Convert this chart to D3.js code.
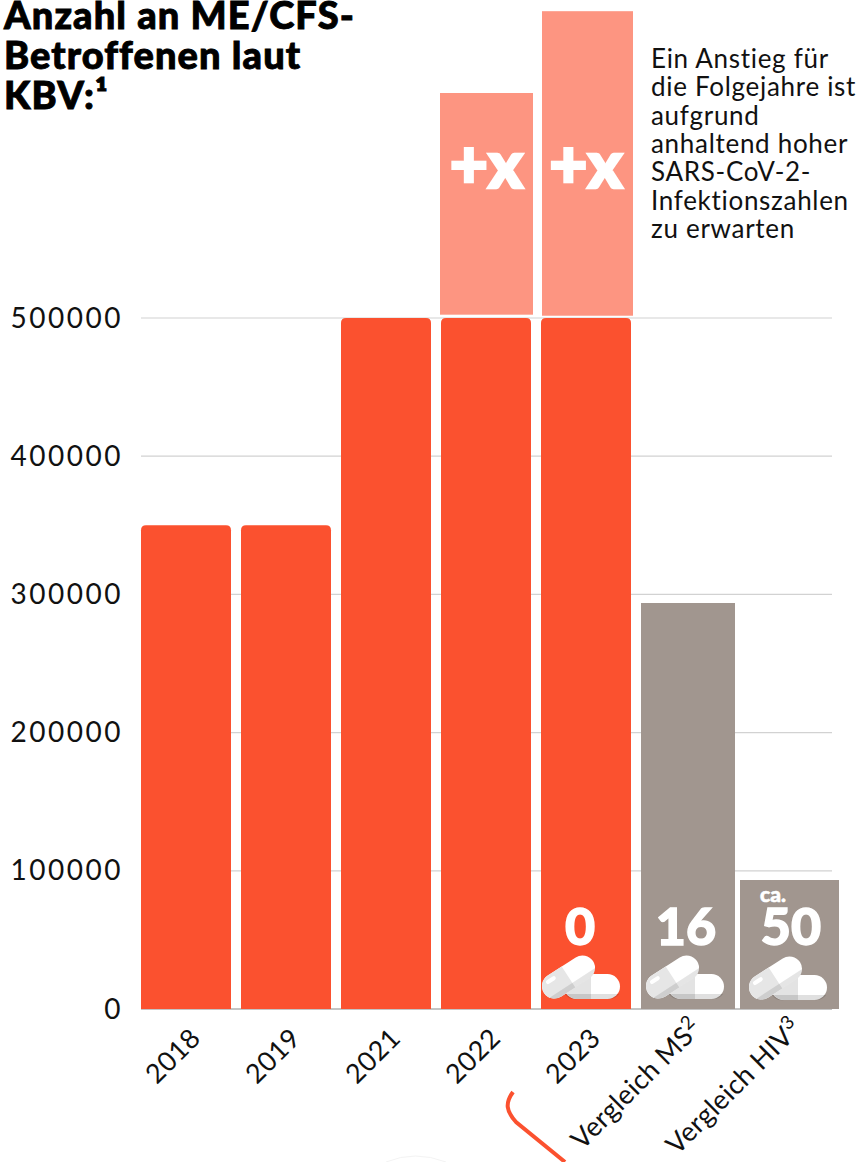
<!DOCTYPE html>
<html><head><meta charset="utf-8">
<script src="https://cdn.jsdelivr.net/npm/d3@7/dist/d3.min.js"></script>
<style>
html,body{margin:0;padding:0;background:#fff;overflow:hidden}
svg{display:block}
text{font-family:"Lato","Noto Sans",sans-serif}
</style></head><body><svg id="c" width="859" height="1162"></svg>
<script>
const categories=["2018","2019","2021","2022","2023","Vergleich MS²","Vergleich HIV³"];
const counts=[350000,350000,500000,500000,500000,293800,93300];
const projectedTops=[null,null,null,662800,722000,null,null];
const projectedBases=[null,null,null,502400,501650,null,null];
const pillCounts=["","","","","0","16","50"];
const yTicks=[0,100000,200000,300000,400000,500000];
const titleLines=["Anzahl an ME/CFS-","Betroffenen laut","KBV:¹"];
const noteLines=["Ein Anstieg für","die Folgejahre ist","aufgrund","anhaltend hoher","SARS-CoV-2-","Infektionszahlen","zu erwarten"];
const ORANGE="#fb512f",LIGHT="#fd9581",GREY="#a1968f",INK="#111";

const svg=d3.select("#c");
const x=d3.scaleBand().domain(categories).range([141,831]).paddingInner(0.1).paddingOuter(0);
const y=d3.scaleLinear().domain([0,500000]).range([1009,318]);

// faint arc at the foot
svg.append("path").attr("d","M386,1162Q415,1150 446,1162").attr("fill","none").attr("stroke","#f3f3f3").attr("stroke-width",1);

// grid and baseline
svg.append("g").selectAll("line").data(yTicks).join("line")
 .attr("x1",141).attr("x2",832).attr("y1",d=>y(d)).attr("y2",d=>y(d))
 .attr("stroke",d=>d===0?"#8a8a8a":"#d2d2d2").attr("stroke-width",1.2);

// y labels
svg.append("g").selectAll("text").data(yTicks).join("text")
 .attr("x",123).attr("y",d=>y(d)+9.5).attr("text-anchor","end")
 .attr("font-size",28).attr("letter-spacing",2.5).attr("fill",INK).text(d=>d);

// main bars
function topRounded(d,i){
  const x0=x(categories[i]),w=x.bandwidth(),t=y(d),b=y(0),r=5;
  return `M${x0},${b}V${t+r}Q${x0},${t} ${x0+r},${t}H${x0+w-r}Q${x0+w},${t} ${x0+w},${t+r}V${b}Z`;
}
const isComparison=i=>i>=5;
const comparisonBox=i=>i===5?{x:x(categories[i]),w:x.bandwidth()+4}:{x:x(categories[i])-1,w:x.bandwidth()+9};
svg.append("g").selectAll("path").data(counts).join("path")
 .attr("d",(d,i)=>{
   if(isComparison(i)){const b=comparisonBox(i);return `M${b.x},${y(0)}V${y(d)}H${b.x+b.w}V${y(0)}Z`;}
   return topRounded(d,i);})
 .attr("fill",(d,i)=>isComparison(i)?GREY:ORANGE);

// projected bars
const proj=svg.append("g");
projectedTops.forEach((v,i)=>{
  if(v===null)return;
  const c=categories[i];
  const px=i===3?x(c)-1:x(c)+1, pw=i===3?x.bandwidth()+3:x.bandwidth()+1;
  proj.append("rect").attr("x",px).attr("width",pw).attr("y",y(v)).attr("height",y(projectedBases[i])-y(v)).attr("fill",LIGHT);
  proj.append("text").attr("x",px+pw/2-(i===4?1.5:0)).attr("y",188).attr("text-anchor","middle")
   .attr("font-size",66).attr("font-weight",900).attr("fill","#fff").attr("stroke","#fff").attr("stroke-width",2.6).text("+x");
});

// pills
function pill(g,tx,ty){
  const p=g.append("g").attr("transform",`translate(${tx},${ty})`);
  p.append("rect").attr("x",22).attr("y",19).attr("width",56).attr("height",25).attr("rx",12.5).attr("fill","#fff");
  p.append("path").attr("d","M49,19H35A12.5,12.5 0 0 0 35,44H49Z").attr("fill","#e3e3e3");
  p.append("path").attr("d","M22.8,39A12.5,12.5 0 0 0 35,44H65.5A12.5,12.5 0 0 0 77.2,39Z").attr("fill","#000").attr("opacity",0.12);
  const t=p.append("g").attr("transform","translate(26.5,22) rotate(-33)");
  t.append("rect").attr("x",-29.2).attr("y",-12.5).attr("width",58.4).attr("height",25).attr("rx",12.5).attr("fill","#fff");
  t.append("path").attr("d","M0,-12.5H-16.7A12.5,12.5 0 0 0 -16.7,12.5H0Z").attr("fill","#e6e6e6");
  t.append("path").attr("d","M-27.2,7A12.5,12.5 0 0 0 -16.7,12.5H16.7A12.5,12.5 0 0 0 27.2,7Z").attr("fill","#000").attr("opacity",0.1);
  t.append("path").attr("d","M-20,-7H-13").attr("stroke","#fff").attr("stroke-width",4).attr("stroke-linecap","round");
}
const lab=svg.append("g");
pillCounts.forEach((s,i)=>{
  if(!s)return;
  const c=categories[i];
  const bx=isComparison(i)?comparisonBox(i).x:x(c);
  const cx=i===4?x(c)+39:i===5?x(c)+45:x(c)+50;
  lab.append("text").attr("x",cx).attr("y",945).attr("text-anchor","middle")
   .attr("font-size",52).attr("font-weight",900).attr("fill","#fff").attr("stroke","#fff").attr("stroke-width",1.4).text(s);
  pill(lab,bx+(i===6?9:i===5?5:1),i===6?956:955);
});
lab.append("text").attr("x",x(categories[6])+32).attr("y",902).attr("text-anchor","middle")
 .attr("font-size",21).attr("font-weight",900).attr("fill","#fff").attr("stroke","#fff").attr("stroke-width",0.6).text("ca.");

// x labels
svg.append("g").selectAll("text").data(categories).join("text")
 .attr("transform",(d,i)=>isComparison(i)
    ?`translate(${x(d)+x.bandwidth()/2+17},${1030}) rotate(-45)`
    :`translate(${x(d)+x.bandwidth()/2+16},${1040}) rotate(-45)`)
 .attr("text-anchor","end").attr("font-size",27).attr("letter-spacing",0.3).attr("fill",INK)
 .each(function(d){
   const m=d.match(/^(.*?)([²³])$/);
   const t=d3.select(this);
   if(m){
     t.append("tspan").text(m[1]);
     t.append("tspan").attr("font-size",19).attr("dy",-10).text(m[2]==="²"?"2":"3");
   } else t.text(d);
 });

// curve at the foot
svg.append("path").attr("d","M513,1092C505,1103 506,1111 516,1122L565,1162")
 .attr("fill","none").attr("stroke",ORANGE).attr("stroke-width",4);

// title
svg.append("g").selectAll("text").data(titleLines).join("text")
 .attr("x",4).attr("y",(d,i)=>29+i*40).attr("font-size",38).attr("font-weight",900).attr("letter-spacing",1.1)
 .attr("fill","#000").attr("stroke","#000").attr("stroke-width",0.9).text(d=>d);
// note
svg.append("g").selectAll("text").data(noteLines).join("text")
 .attr("x",651).attr("y",(d,i)=>68+i*28.3).attr("font-size",26).attr("letter-spacing",0.7).attr("fill",INK).text(d=>d);
</script></body></html>
